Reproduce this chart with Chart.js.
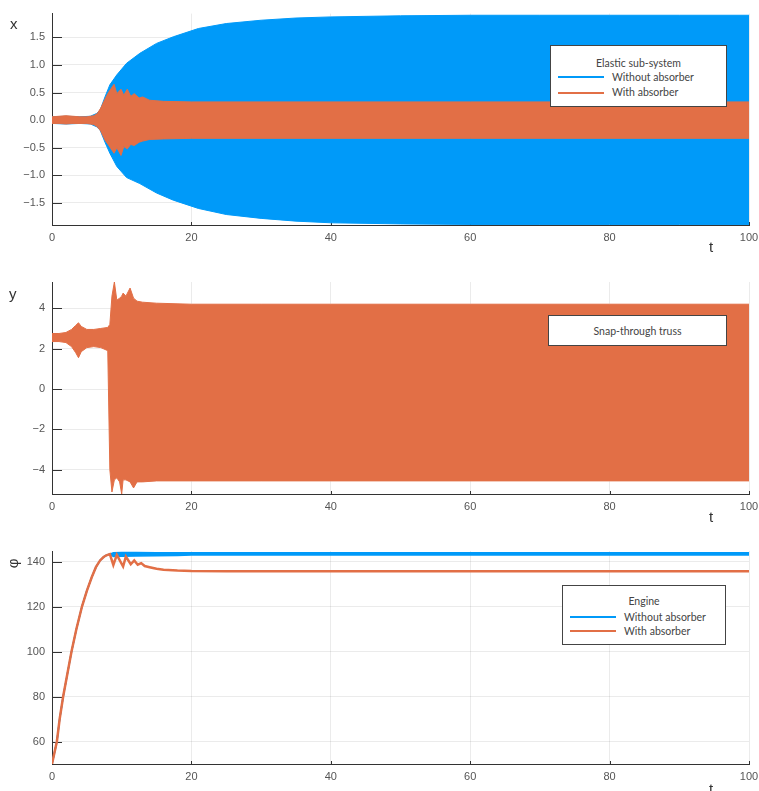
<!DOCTYPE html>
<html>
<head>
<meta charset="utf-8">
<script src="https://cdn.jsdelivr.net/npm/chart.js@4.4.0/dist/chart.umd.min.js"></script>
<style>
body { margin: 0; background: #fff; width: 759px; height: 791px; overflow: hidden; position: relative; font-family: "Liberation Sans", Arial, sans-serif; }
canvas { position: absolute; left: 0; }
.lbl { position: absolute; font-size: 15px; color: #333; line-height: 1; }
.legend { position: absolute; background: #fff; border: 1px solid #444; box-sizing: border-box; font-family: Lato, "Noto Sans", sans-serif; font-size: 10.5px; color: #444; }
.legend span { position: absolute; white-space: nowrap; line-height: 1; }
.legend i { position: absolute; height: 2px; width: 46px; }
</style>
</head>
<body>
<canvas id="c1" width="800" height="263" style="top:0"></canvas>
<canvas id="c2" width="800" height="264" style="top:263px"></canvas>
<canvas id="c3" width="800" height="264" style="top:527px"></canvas>

<div class="lbl" style="left:10px;top:16px">x</div>
<div class="lbl" style="left:9px;top:286px">y</div>
<div class="lbl" style="left:8px;top:556px;transform:rotate(-90deg)">φ</div>
<div class="lbl" style="left:709px;top:239px">t</div>
<div class="lbl" style="left:709px;top:509px">t</div>
<div class="lbl" style="left:709px;top:781px">t</div>

<div class="legend" style="left:550px;top:45px;width:177px;height:62px">
  <span style="left:0;width:175px;text-align:center;top:12px">Elastic sub-system</span>
  <i style="left:7px;top:30px;background:#009af9"></i><span style="left:61px;top:26px">Without absorber</span>
  <i style="left:7px;top:46px;background:#e26f46"></i><span style="left:61px;top:41px">With absorber</span>
</div>
<div class="legend" style="left:548px;top:315px;width:179px;height:31px">
  <span style="left:0;width:177px;text-align:center;top:10px">Snap-through truss</span>
</div>
<div class="legend" style="left:562px;top:585px;width:164px;height:60px">
  <span style="left:0;width:162px;text-align:center;top:10px">Engine</span>
  <i style="left:7px;top:30px;background:#009af9"></i><span style="left:61px;top:26px">Without absorber</span>
  <i style="left:7px;top:44px;background:#e26f46"></i><span style="left:61px;top:40px">With absorber</span>
</div>

<script>
// shared x axis
var xTicks = [0, 20, 40, 60, 80, 100];
var xTickLabels = ['0', '20', '40', '60', '80', '100'];

// panel 1: elastic sub-system x(t), envelopes of the fast oscillation
var tX = [0, 2, 4, 5.5, 6.4, 6.9, 7.6, 8.3, 9.3, 10.7, 12.6, 15, 17.4, 21, 25, 30, 35, 40, 50, 60, 70, 80, 90, 100];
var xFreeUp = [0.06, 0.07, 0.06, 0.07, 0.12, 0.18, 0.42, 0.64, 0.82, 1.03, 1.21, 1.39, 1.51, 1.66, 1.75, 1.81, 1.85, 1.87, 1.89, 1.9, 1.9, 1.9, 1.9, 1.9];
var xFreeLo = [-0.06, -0.07, -0.06, -0.07, -0.12, -0.18, -0.4, -0.6, -0.84, -1.04, -1.15, -1.32, -1.45, -1.6, -1.71, -1.78, -1.83, -1.86, -1.88, -1.89, -1.89, -1.89, -1.89, -1.89];
var tXa = [0, 1, 2, 3, 4, 5, 6, 6.5, 7, 7.6, 8.1, 8.9, 9.3, 9.9, 10.3, 10.8, 11.3, 11.8, 12.5, 13, 14, 16, 20, 100];
var xAbsUp = [0.06, 0.07, 0.08, 0.07, 0.06, 0.06, 0.08, 0.12, 0.22, 0.38, 0.5, 0.65, 0.48, 0.56, 0.45, 0.56, 0.43, 0.48, 0.4, 0.42, 0.36, 0.34, 0.33, 0.33];
var xAbsLo = [-0.06, -0.06, -0.07, -0.06, -0.06, -0.06, -0.08, -0.12, -0.2, -0.36, -0.45, -0.6, -0.5, -0.64, -0.48, -0.52, -0.44, -0.46, -0.4, -0.38, -0.35, -0.34, -0.33, -0.33];
var yTicks1 = [-1.5, -1.0, -0.5, 0.0, 0.5, 1.0, 1.5];
var yTickLabels1 = ['\u22121.5', '\u22121.0', '\u22120.5', '0.0', '0.5', '1.0', '1.5'];

// panel 2: snap-through truss y(t)
var tY = [0, 1, 2, 2.8, 3.4, 3.8, 4.2, 5, 6, 7, 8, 8.3, 8.6, 8.95, 9.3, 9.7, 10.0, 10.2, 10.6, 11.2, 11.7, 12.2, 13, 15, 20, 30, 40, 60, 80, 100];
var yUp = [2.75, 2.75, 2.8, 2.95, 3.15, 3.28, 3.1, 2.95, 2.95, 3.0, 3.05, 3.2, 4.6, 5.3, 4.4, 4.5, 4.6, 4.75, 4.6, 5.0, 4.5, 4.35, 4.3, 4.25, 4.2, 4.2, 4.2, 4.2, 4.2, 4.2];
var yLo = [2.35, 2.35, 2.3, 2.1, 1.8, 1.55, 1.85, 2.05, 2.1, 2.05, 1.9, -4.0, -5.1, -4.5, -4.4, -4.6, -5.2, -4.5, -4.5, -4.6, -4.9, -4.6, -4.6, -4.55, -4.55, -4.55, -4.55, -4.55, -4.55, -4.55];
var yTicks2 = [-4, -2, 0, 2, 4];
var yTickLabels2 = ['\u22124', '\u22122', '0', '2', '4'];

// panel 3: engine angle phi(t)
var tP = [0, 0.35, 0.7, 1.1, 1.6, 2.2, 2.8, 3.5, 4.3, 5, 5.7, 6.3, 6.9, 7.4, 7.8, 8.3];
var phiRise = [50, 55, 60, 70, 80, 90, 100, 110, 120, 127, 133, 137.5, 140.5, 142, 142.8, 143.3];
var tPfree = [8.8, 10, 12, 15, 18, 20, 30, 100];
var phiFreeUp = [143.9, 144, 144, 143.9, 143.9, 143.9, 143.9, 143.9];
var phiFreeLo = [142.3, 142.4, 142.5, 142.6, 142.7, 142.9, 142.9, 142.9];
var tPabs = [8.8, 9.3, 10.2, 10.6, 11.3, 11.8, 12.3, 12.8, 13.3, 14, 15, 16, 18, 20, 25, 30, 100];
var phiAbs = [138.5, 143, 137.8, 142.2, 138.8, 140.5, 138.6, 139.3, 138.0, 137.5, 136.8, 136.4, 136.0, 135.8, 135.7, 135.7, 135.7];
var yTicks3 = [60, 80, 100, 120, 140];
var yTickLabels3 = ['60', '80', '100', '120', '140'];

var BLUE = '#009af9';
var RED = '#e26f46';

function pts(ts, vs) {
    return ts.map(function (t, i) { return { x: t, y: vs[i] }; });
}

// small inward tick marks on the axes, like the original
var innerTicks = {
    id: 'innerTicks',
    beforeDatasetsDraw: function (chart) {
        var c = chart.ctx, a = chart.chartArea;
        c.save();
        c.strokeStyle = '#333';
        c.lineWidth = 1;
        chart.scales.y.ticks.forEach(function (t) {
            var p = Math.round(chart.scales.y.getPixelForValue(t.value)) + 0.5;
            c.beginPath(); c.moveTo(a.left, p); c.lineTo(a.left + 10, p); c.stroke();
        });
        chart.scales.x.ticks.forEach(function (t) {
            var p = Math.round(chart.scales.x.getPixelForValue(t.value)) + 0.5;
            c.beginPath(); c.moveTo(p, a.bottom); c.lineTo(p, a.bottom - 3); c.stroke();
        });
        c.restore();
    }
};

function makeChart(id, datasets, yMin, yMax, yTicks, yLabels, padTop, xHeight) {
    return new Chart(document.getElementById(id), {
        type: 'line',
        data: { datasets: datasets },
        options: {
            responsive: false,
            animation: false,
            // canvas is 800 wide, clipped by the 759 window; 51px keeps the plot edge at 749
            layout: { padding: { top: padTop, right: 51, left: 0, bottom: 0 } },
            plugins: { legend: { display: false }, tooltip: { enabled: false } },
            elements: { point: { radius: 0 }, line: { tension: 0 } },
            scales: {
                x: {
                    type: 'linear', min: 0, max: 100,
                    afterBuildTicks: function (s) { s.ticks = xTicks.map(function (v) { return { value: v }; }); },
                    afterFit: function (s) { s.height = xHeight; },
                    grid: { color: 'rgba(0,0,0,0.08)', drawTicks: false },
                    border: { color: '#333', width: 1 },
                    ticks: { padding: 6, color: '#555', font: { size: 11 },
                        callback: function (v, i) { return xTickLabels[i]; } }
                },
                y: {
                    type: 'linear', min: yMin, max: yMax,
                    afterBuildTicks: function (s) { s.ticks = yTicks.map(function (v) { return { value: v }; }); },
                    afterFit: function (s) { s.width = 52; },
                    grid: { color: 'rgba(0,0,0,0.08)', drawTicks: false },
                    border: { color: '#333', width: 1 },
                    ticks: { padding: 7, color: '#555', font: { size: 11 },
                        callback: function (v, i) { return yLabels[i]; } }
                }
            }
        },
        plugins: [innerTicks]
    });
}

makeChart('c1', [
    { data: pts(tX, xFreeUp), borderColor: BLUE, borderWidth: 1, fill: false, order: 2 },
    { data: pts(tX, xFreeLo), borderColor: BLUE, borderWidth: 1, backgroundColor: BLUE, fill: '-1', order: 2 },
    { data: pts(tXa, xAbsUp), borderColor: RED, borderWidth: 1, fill: false, order: 1 },
    { data: pts(tXa, xAbsLo), borderColor: RED, borderWidth: 1, backgroundColor: RED, fill: '-1', order: 1 }
], -1.9, 1.93, yTicks1, yTickLabels1, 13, 38);

makeChart('c2', [
    { data: pts(tY, yUp), borderColor: RED, borderWidth: 1, fill: false },
    { data: pts(tY, yLo), borderColor: RED, borderWidth: 1, backgroundColor: RED, fill: '-1' }
], -5.2, 5.3, yTicks2, yTickLabels2, 19, 33);

makeChart('c3', [
    { data: pts(tP.concat(tPfree), phiRise.concat(phiFreeUp)), borderColor: BLUE, borderWidth: 1.5, fill: false, order: 2 },
    { data: pts(tP.concat(tPfree), phiRise.concat(phiFreeLo)), borderColor: BLUE, borderWidth: 1.5, backgroundColor: BLUE, fill: '-1', order: 2 },
    { data: pts(tP.concat(tPabs), phiRise.concat(phiAbs)), borderColor: RED, borderWidth: 2.5, fill: false, order: 1 }
], 50, 144.7, yTicks3, yTickLabels3, 24, 27);
</script>
</body>
</html>
